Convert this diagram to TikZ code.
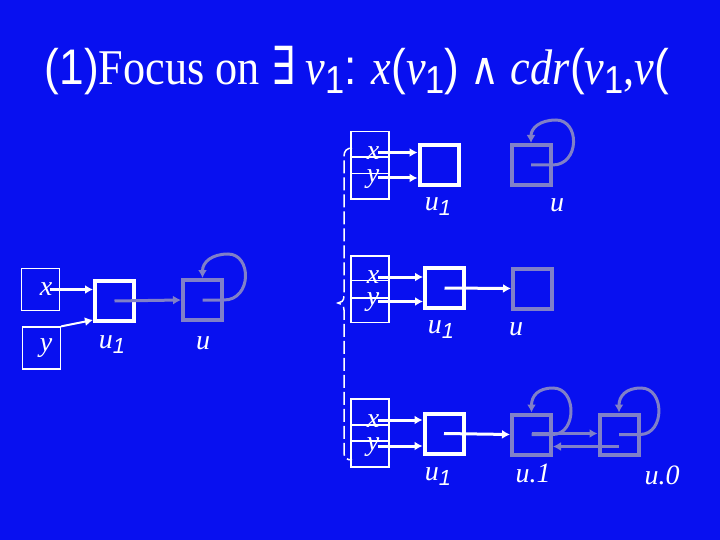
\documentclass[tikz,border=0pt]{standalone}
\usepackage{fontspec}
\setmainfont{Liberation Serif}
\newfontfamily\arial{Liberation Sans}
\newfontfamily\symb{DejaVu Sans}
\usetikzlibrary{arrows.meta}

\definecolor{slideblue}{RGB}{8,16,240}
\definecolor{sumgray}{RGB}{128,128,200}

\newcommand{\lowsub}[1]{\raisebox{-0.18em}{\arial\scalebox{0.78}{#1}}}

\tikzset{
  cell/.style={draw=white, line width=4pt, minimum width=39pt, minimum height=40pt, inner sep=0pt},
  sumcell/.style={cell, draw=sumgray},
  varbox/.style={draw=white, line width=1.2pt, minimum width=38pt, minimum height=42pt, inner sep=0pt},
  ptr/.style={white, line width=3pt, -{Latex[length=8pt,width=9pt]}},
  sumptr/.style={sumgray, line width=3pt, -{Latex[length=8pt,width=9pt]}},
  lbl/.style={text=white, font=\fontsize{28}{30}\selectfont\itshape, inner sep=0pt},
}

\begin{document}
\begin{tikzpicture}[x=1pt,y=-1pt]
\useasboundingbox (0,0) rectangle (720,540);
\fill[slideblue] (0,0) rectangle (720,540);

% title
\node[text=white, inner sep=0pt, anchor=base] (title) at (357,85)
  {\scalebox{0.885}[1]{\fontsize{50}{54}\selectfont {\arial(1)}Focus on {\symb\scalebox{0.85}[1.05]{∃}} \textit{v}\lowsub{1}{\arial:} \textit{x}{\arial(}\textit{v}\lowsub{1}{\arial)} {\symb\scalebox{0.9}{∧}} \textit{cdr}{\arial(}\textit{v}\lowsub{1},\textit{v}{\arial(}}};

% left: the structure before focusing
\node[varbox] (xv) at (40.5,289.5) {};
\node[varbox] (yv) at (41.5,348) {};
\node[lbl] (xvl) at (46,289) {x};
\node[lbl] (yvl) at (46,348) {y};
\node[cell] (uone) at (114.5,301) {};
\node[sumcell] (usum) at (202.5,300) {};
\node[lbl] (uonel) at (112,345) {u\lowsub{1}};
\node[lbl] (usuml) at (203,343) {u};

\draw[ptr] ([xshift=9pt]xv.center) -- (xv.center -| uone.west);
\draw[ptr, line width=2pt] (yv.north east) -- ([yshift=3pt]uone.south west);
\draw[sumptr] (uone.center) -- (usum.west);
\draw[sumptr] (usum.center) -- (usum.east) .. controls (252,300) and (252,254) .. (228,254)
  .. controls (212,254) and (202.5,262) .. (usum.north);

% brace
\draw[white, line width=1.5pt, dash pattern=on 13pt off 4pt]
  (352,148) .. controls (347,148) and (344,151) .. (344,156) -- (344,296)
  .. controls (344,301) and (341,303) .. (338,303)
  .. controls (341,303) and (344,305) .. (344,310) -- (344,453)
  .. controls (344,458) and (347,460) .. (352,460);

% top: x and y both reach u1, u keeps its loop
\node[varbox] (tx) at (370,152.5) {};
\node[varbox] (ty) at (370,178) {};
\node[lbl] (txl) at (373,153) {x};
\node[lbl] (tyl) at (373,179) {y};
\node[cell] (tone) at (439,165) {};
\node[sumcell] (tsum) at (531,165) {};
\node[lbl] (tonel) at (438,207) {u\lowsub{1}};
\node[lbl] (tsuml) at (557,205) {u};

\draw[ptr] ([xshift=8pt]tx.center) -- (tx.center -| tone.west);
\draw[ptr] ([xshift=8pt]ty.center) -- (ty.center -| tone.west);
\draw[sumptr] (tsum.center) -- (tsum.east) .. controls (580,165) and (580,120) .. (556,120)
  .. controls (540,120) and (531,128) .. (tsum.north);

% middle: u1 points to u
\node[varbox] (mx) at (370,277) {};
\node[varbox] (my) at (370,301.5) {};
\node[lbl] (mxl) at (373,277) {x};
\node[lbl] (myl) at (373,302) {y};
\node[cell] (mone) at (444.5,288) {};
\node[sumcell] (msum) at (532.5,288.5) {};
\node[lbl] (monel) at (441,330) {u\lowsub{1}};
\node[lbl] (msuml) at (516,329) {u};

\draw[ptr] ([xshift=8pt]mx.center) -- (mx.center -| mone.west);
\draw[ptr] ([xshift=8pt]my.center) -- (my.center -| mone.west);
\draw[ptr] (mone.center) -- (msum.west);

% bottom: u split into u.1 and u.0
\node[varbox] (bx) at (370,420) {};
\node[varbox] (by) at (370,446) {};
\node[lbl] (bxl) at (373,421) {x};
\node[lbl] (byl) at (373,447) {y};
\node[cell] (bone) at (444,433.5) {};
\node[sumcell] (bsa) at (531.5,434.5) {};
\node[sumcell] (bsb) at (619,434.5) {};
\node[lbl] (bonel) at (438,477) {u\lowsub{1}};
\node[lbl] (bsal) at (533,473) {u.1};
\node[lbl] (bsbl) at (662,475) {u.0};

\draw[ptr] ([xshift=8pt]bx.center) -- (bx.center -| bone.west);
\draw[ptr] ([xshift=8pt]by.center) -- (by.center -| bone.west);
\draw[ptr] (bone.center) -- (bsa.west);
\draw[sumptr] ([yshift=1pt]bsa.center) -- ([yshift=1pt]bsa.center -| bsb.west);
\draw[sumptr] ([yshift=-12pt]bsb.center) -- ([yshift=-12pt]bsb.center -| bsa.east);
\draw[sumptr] (bsa.center) -- (bsa.east) .. controls (577,434) and (577,388) .. (553,388)
  .. controls (538,388) and (531.5,396) .. (bsa.north);
\draw[sumptr] (bsb.center) -- (bsb.east) .. controls (665,434) and (665,388) .. (641,388)
  .. controls (626,388) and (619,396) .. (bsb.north);
\end{tikzpicture}
\end{document}
